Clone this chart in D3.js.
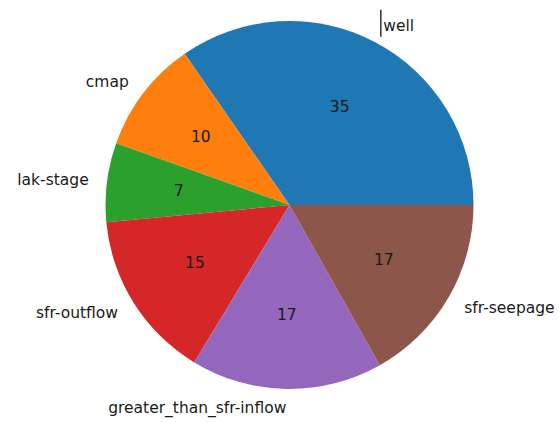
<!DOCTYPE html>
<html>
<head>
<meta charset="utf-8">
<script src="https://cdn.jsdelivr.net/npm/d3@7"></script>
<style>
html,body{margin:0;padding:0;background:#fff;}
svg{display:block;}
text{font-family:"DejaVu Sans",sans-serif;}
</style>
</head>
<body>
<svg id="chart" width="559" height="423"></svg>
<script>
const categories = ["well","cmap","lak-stage","sfr-outflow","greater_than_sfr-inflow","sfr-seepage"];
const values = [35,10,7,15,17,17];
const colors = ["#1f77b4","#ff7f0e","#2ca02c","#d62728","#9467bd","#8c564b"];

const W = 559, H = 423;
const cx = 289.5, cy = 205, R = 184;
const svg = d3.select("#chart");
const g = svg.append("g").attr("transform", `translate(${cx},${cy})`);

const data = categories.map((c,i)=>({name:c, value:values[i], color:colors[i]}));
// matplotlib: start at 3 o'clock, counterclockwise
const pie = d3.pie().sort(null).value(d=>d.value)
  .startAngle(Math.PI/2).endAngle(Math.PI/2 - 2*Math.PI);
const arcs = pie(data);
const arc = d3.arc().innerRadius(0).outerRadius(R);

g.selectAll("path.slice").data(arcs).enter().append("path")
  .attr("class","slice")
  .attr("d", arc)
  .attr("fill", d=>d.data.color);

function pos(d, f){
  const a = (d.startAngle + d.endAngle)/2; // d3 angle: 0 at top, clockwise
  return [Math.sin(a)*R*f, -Math.cos(a)*R*f];
}

// outer labels
g.selectAll("text.lbl").data(arcs).enter().append("text")
  .attr("class","lbl")
  .attr("x", d=>pos(d,1.1)[0])
  .attr("y", d=>pos(d,1.1)[1])
  .attr("dy","0.35em")
  .attr("text-anchor", d=>pos(d,1.1)[0] >= 0 ? "start" : "end")
  .attr("font-size","15.5px")
  .attr("fill","#1a1a1a")
  .text(d=>d.data.name);

// value labels
g.selectAll("text.val").data(arcs).enter().append("text")
  .attr("class","val")
  .attr("x", d=>pos(d,0.6)[0] - 1)
  .attr("y", d=>pos(d,0.6)[1] - 1)
  .attr("dy","0.35em")
  .attr("text-anchor","middle")
  .attr("font-size","15.5px")
  .attr("fill","#1a1a1a")
  .text(d=>d.data.value);

// cursor-like mark next to "well"
const wellPos = pos(arcs[0],1.1);
g.append("line")
  .attr("x1", wellPos[0]-2.5).attr("x2", wellPos[0]-2.5)
  .attr("y1", wellPos[1]-16).attr("y2", wellPos[1]+11)
  .attr("stroke","#111").attr("stroke-width",1.3);
</script>
</body>
</html>
